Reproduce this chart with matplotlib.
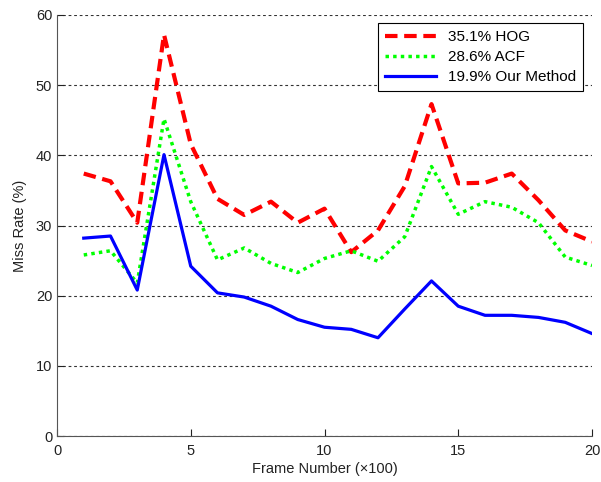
import matplotlib
matplotlib.use("Agg")
from matplotlib import pyplot as plt

plt.rcParams['font.family'] = ['Liberation Sans', 'DejaVu Sans']

frames = list(range(1, 21))
hog = [37.4, 36.3, 30.4, 57.2, 41.6, 33.8, 31.5, 33.4, 30.4, 32.4,
       26.2, 29.3, 35.6, 47.3, 36.0, 36.1, 37.4, 33.6, 29.3, 27.7]
acf = [25.8, 26.4, 21.8, 45.2, 33.4, 25.1, 26.8, 24.6, 23.3, 25.3,
       26.4, 24.9, 28.4, 38.4, 31.6, 33.4, 32.6, 30.4, 25.5, 24.3]
ours = [28.2, 28.5, 20.8, 40.1, 24.2, 20.4, 19.8, 18.5, 16.6, 15.5,
        15.2, 14.0, 18.1, 22.1, 18.5, 17.2, 17.2, 16.9, 16.2, 14.6]
labels = ['35.1% HOG', '28.6% ACF', '19.9% Our Method']

fig = plt.figure(figsize=(6.01, 4.82), dpi=100)
ax = fig.add_axes([57 / 601, 46 / 482, 535 / 601, 421 / 482])

ax.plot(frames, hog, color='red', linestyle=(0, (3, 1.6)), linewidth=3, label=labels[0])
ax.plot(frames, acf, color=(0, 1, 0), linestyle=(0, (1, 1.2)), linewidth=2.5, label=labels[1])
ax.plot(frames, ours, color='blue', linestyle='-', linewidth=2.3, label=labels[2])

ax.set_xlim(0, 20)
ax.set_ylim(0, 60)
ax.set_xticks([0, 5, 10, 15, 20])
ax.set_yticks(range(0, 61, 10))
ax.yaxis.grid(True, linestyle=(0, (2.5, 2.5)), color='#333333', linewidth=0.8)
ax.set_axisbelow(True)
for side in ['top', 'right']:
    ax.spines[side].set_visible(False)
for side in ['left', 'bottom']:
    ax.spines[side].set_color('#555555')
ax.tick_params(direction='in', length=5, labelsize=10.5, colors='#222222')
ax.tick_params(axis='x', pad=6)

ax.set_xlabel('Frame Number (×100)', fontsize=10.5, color='#222222', labelpad=3)
ax.set_ylabel('Miss Rate (%)', fontsize=10.5, color='#222222', labelpad=6)

leg = ax.legend(loc='upper right', bbox_to_anchor=(0.983, 0.981), borderaxespad=0,
                fontsize=11, fancybox=False, framealpha=1, edgecolor='black',
                handlelength=3.3, borderpad=0.45, labelspacing=0.4, handletextpad=0.8)
leg.get_frame().set_linewidth(0.8)

fig.savefig('out.png', dpi=100)
